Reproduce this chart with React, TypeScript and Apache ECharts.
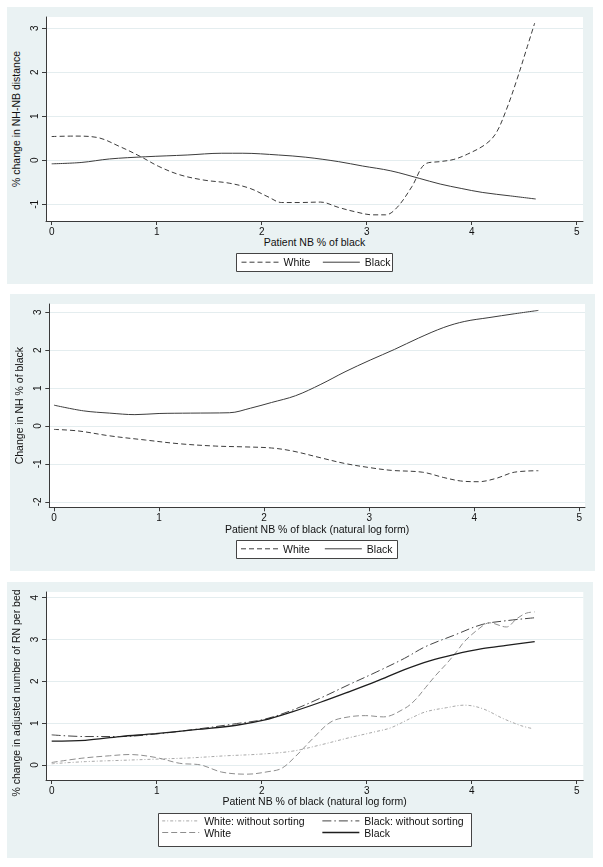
import React, { useEffect, useRef } from "react";
import * as echarts from "echarts";

// ---------- data ----------
const xTicks = [0, 1, 2, 3, 4, 5];
const yTicks1 = [-1, 0, 1, 2, 3];
const yTicks2 = [-2, -1, 0, 1, 2, 3];
const yTicks3 = [0, 1, 2, 3, 4];

// Panel 1: % change in NH-NB distance
const p1WhiteX = [0, 0.22, 0.43, 0.65, 0.85, 1.02, 1.22, 1.45, 1.69, 1.89, 2.06, 2.19, 2.36, 2.56, 2.73, 2.89, 3.06, 3.18, 3.29, 3.43, 3.56, 3.7, 3.83, 3.96, 4.13, 4.23, 4.33, 4.43, 4.52, 4.6];
const p1WhiteY = [0.54, 0.55, 0.52, 0.31, 0.08, -0.14, -0.33, -0.45, -0.52, -0.64, -0.83, -0.96, -0.96, -0.95, -1.07, -1.17, -1.24, -1.24, -1.07, -0.6, -0.08, -0.03, 0.02, 0.14, 0.36, 0.61, 1.15, 1.83, 2.51, 3.12];
const p1BlackX = [0, 0.28, 0.55, 0.89, 1.29, 1.62, 1.82, 2.16, 2.42, 2.73, 2.96, 3.23, 3.5, 3.7, 3.9, 4.1, 4.37, 4.61];
const p1BlackY = [-0.08, -0.05, 0.03, 0.08, 0.12, 0.16, 0.16, 0.12, 0.07, -0.03, -0.13, -0.24, -0.41, -0.54, -0.64, -0.73, -0.81, -0.88];

// Panel 2: Change in NH % of black
const p2BlackX = [0, 0.28, 0.53, 0.77, 1.0, 1.3, 1.67, 1.87, 2.07, 2.3, 2.54, 2.77, 3.01, 3.24, 3.47, 3.71, 3.91, 4.14, 4.38, 4.61];
const p2BlackY = [0.55, 0.4, 0.34, 0.3, 0.33, 0.34, 0.35, 0.47, 0.62, 0.8, 1.1, 1.43, 1.74, 2.02, 2.32, 2.6, 2.76, 2.86, 2.96, 3.05];
const p2WhiteX = [0, 0.23, 0.53, 0.87, 1.2, 1.54, 1.8, 2.07, 2.27, 2.54, 2.77, 3.01, 3.21, 3.51, 3.71, 3.87, 4.04, 4.21, 4.38, 4.61];
const p2WhiteY = [-0.09, -0.13, -0.26, -0.37, -0.47, -0.53, -0.55, -0.58, -0.66, -0.84, -0.99, -1.1, -1.17, -1.22, -1.36, -1.45, -1.47, -1.38, -1.22, -1.18];

// Panel 3: % change in adjusted number of RN per bed
const p3BlackX = [0, 0.32, 0.65, 0.99, 1.39, 1.76, 2.02, 2.29, 2.56, 2.83, 3.09, 3.36, 3.6, 3.83, 4.1, 4.33, 4.6];
const p3BlackY = [0.57, 0.59, 0.68, 0.75, 0.85, 0.95, 1.07, 1.27, 1.5, 1.75, 2.0, 2.28, 2.49, 2.64, 2.78, 2.86, 2.95];
const p3BlackNsX = [0, 0.32, 0.65, 0.99, 1.39, 1.76, 2.02, 2.29, 2.56, 2.83, 3.09, 3.36, 3.56, 3.83, 4.1, 4.33, 4.6];
const p3BlackNsY = [0.72, 0.68, 0.68, 0.74, 0.86, 0.99, 1.09, 1.31, 1.6, 1.92, 2.22, 2.55, 2.83, 3.1, 3.36, 3.45, 3.52];
const p3WhiteX = [0, 0.28, 0.55, 0.74, 0.99, 1.22, 1.42, 1.62, 1.86, 2.06, 2.19, 2.32, 2.49, 2.66, 2.83, 2.99, 3.16, 3.36, 3.46, 3.56, 3.66, 3.76, 3.86, 3.93, 4.07, 4.17, 4.33, 4.43, 4.52, 4.6];
const p3WhiteY = [0.06, 0.16, 0.22, 0.25, 0.18, 0.04, 0.0, -0.17, -0.22, -0.16, -0.08, 0.2, 0.64, 1.03, 1.15, 1.18, 1.15, 1.35, 1.55, 1.85, 2.15, 2.42, 2.72, 2.95, 3.26, 3.4, 3.3, 3.5, 3.63, 3.66];
const p3WhiteNsX = [0, 0.32, 0.65, 0.99, 1.32, 1.66, 1.99, 2.29, 2.56, 2.83, 3.09, 3.23, 3.43, 3.56, 3.76, 3.93, 4.1, 4.3, 4.47, 4.58];
const p3WhiteNsY = [0.03, 0.08, 0.11, 0.14, 0.17, 0.22, 0.26, 0.33, 0.48, 0.65, 0.8, 0.89, 1.13, 1.27, 1.37, 1.43, 1.35, 1.11, 0.94, 0.87];

const zip = (xs: number[], ys: number[]) => xs.map((x, i) => [x, ys[i]]);

const FONT = "'Liberation Sans', Arial, Helvetica, sans-serif";
const TEXT = "#111";
const AXIS = "#3a3a3a";
const GRIDLINE = "#E4EDEF";
const BG = "#EAF2F3";

const DARK = "#3c3c3c";
const dash = [5, 3];

function xAxisCfg(gridIndex: number, min: number, max: number, name: string) {
  return {
    type: "value",
    gridIndex,
    min,
    max,
    name,
    nameLocation: "middle",
    nameGap: 15,
    nameTextStyle: { fontSize: 10.5, color: TEXT, fontFamily: FONT },
    axisLine: { show: true, onZero: false, lineStyle: { color: AXIS, width: 1 } },
    axisTick: { show: true, length: 4, customValues: xTicks, lineStyle: { color: AXIS, width: 1 } },
    axisLabel: { customValues: xTicks, margin: 5, fontSize: 10, color: TEXT, fontFamily: FONT },
    splitLine: { show: false },
  };
}

function yAxisCfg(gridIndex: number, min: number, max: number, ticks: number[], name: string, nameGap: number, namePad: number[]) {
  return {
    type: "value",
    gridIndex,
    min,
    max,
    name,
    nameLocation: "middle",
    nameGap,
    nameTextStyle: { fontSize: 10.5, color: TEXT, fontFamily: FONT, padding: namePad },
    axisLine: { show: true, onZero: false, lineStyle: { color: AXIS, width: 1 } },
    axisTick: { show: true, length: 4, customValues: ticks, lineStyle: { color: AXIS, width: 1 } },
    axisLabel: { customValues: ticks, rotate: 90, margin: 7, fontSize: 10, color: TEXT, fontFamily: FONT },
    splitLine: { show: true, lineStyle: { color: GRIDLINE, width: 1 } },
  };
}

function lineSeries(name: string, xi: number, xs: number[], ys: number[], color: string, width: number, type: any) {
  return {
    type: "line",
    name,
    xAxisIndex: xi,
    yAxisIndex: xi,
    data: zip(xs, ys),
    symbol: "none",
    smooth: 0.35,
    lineStyle: { color, width, type },
    itemStyle: { color },
    silent: true,
  };
}

const legendItem = (name: string, color: string, width: number, type: any) => ({
  name,
  lineStyle: { color, width, type },
  itemStyle: { color: "transparent", borderWidth: 0, opacity: 0 },
});

const W_NS_COLOR = "#a8a8a8";
const W_NS_TYPE = [3, 2, 1, 2];
const B_NS_COLOR = "#444";
const B_NS_TYPE = [9, 3, 1.5, 3];
const W3_COLOR = "#8e8e8e";
const W3_TYPE = [6, 3];
const B3_COLOR = "#1e1e1e";

export default function App() {
  const ref = useRef<HTMLDivElement>(null);
  useEffect(() => {
    if (!ref.current) return;
    const chart = echarts.init(ref.current, undefined, { renderer: "svg" });
    const legendText = { fontSize: 10.5, color: TEXT, fontFamily: FONT };
    chart.setOption({
      animation: false,
      backgroundColor: "transparent",
      grid: [
        { left: 46, top: 17, width: 537, height: 204, show: true, backgroundColor: "#fff", borderWidth: 0 },
        { left: 49.3, top: 304, width: 535.7, height: 203.3, show: true, backgroundColor: "#fff", borderWidth: 0 },
        { left: 46, top: 592, width: 537.3, height: 188, show: true, backgroundColor: "#fff", borderWidth: 0 },
      ],
      xAxis: [
        xAxisCfg(0, -0.0543, 5.06, "Patient NB % of black"),
        xAxisCfg(1, -0.0447, 5.054, "Patient NB % of black (natural log form)"),
        xAxisCfg(2, -0.0543, 5.063, "Patient NB % of black (natural log form)"),
      ],
      yAxis: [
        yAxisCfg(0, -1.38, 3.257, yTicks1, "% change in NH-NB distance", 13, [0, 0, 0, 0]),
        yAxisCfg(1, -2.145, 3.219, yTicks2, "Change in NH % of black", 14, [0, 0, 0, 0]),
        yAxisCfg(2, -0.359, 4.136, yTicks3, "% change in adjusted number of RN per bed", 16, [0, 14, 0, 0]),
      ],
      legend: [
        {
          left: 241, top: 256.7, itemWidth: 37, itemHeight: 12, itemGap: 12, padding: 0, selectedMode: false,
          textStyle: legendText,
          data: [legendItem("White", DARK, 1, dash), legendItem("Black", DARK, 1, "solid")],
        },
        {
          left: 240.5, top: 543.3, itemWidth: 37, itemHeight: 12, itemGap: 14.5, padding: 0, selectedMode: false,
          textStyle: legendText,
          data: [legendItem("White", DARK, 1, dash), legendItem("Black", DARK, 1, "solid")],
        },
        {
          left: 161.7, top: 815.3, orient: "vertical", itemWidth: 37, itemHeight: 14, itemGap: 0.4, padding: 0, selectedMode: false,
          textStyle: legendText,
          data: [legendItem("White: without sorting", W_NS_COLOR, 1, W_NS_TYPE), legendItem("White", W3_COLOR, 1, W3_TYPE)],
        },
        {
          left: 321.7, top: 815.3, orient: "vertical", itemWidth: 37, itemHeight: 14, itemGap: 0.4, padding: 0, selectedMode: false,
          textStyle: legendText,
          data: [legendItem("Black: without sorting", B_NS_COLOR, 1, B_NS_TYPE), legendItem("Black", B3_COLOR, 1.3, "solid")],
        },
      ],
      graphic: [
        { type: "rect", z: 1, shape: { x: 236.5, y: 253.5, width: 156, height: 18 }, style: { fill: "#fff", stroke: "#444", lineWidth: 1 } },
        { type: "rect", z: 1, shape: { x: 236.5, y: 540.5, width: 161, height: 18 }, style: { fill: "#fff", stroke: "#444", lineWidth: 1 } },
        { type: "rect", z: 1, shape: { x: 158.5, y: 813.5, width: 313, height: 33 }, style: { fill: "#fff", stroke: "#444", lineWidth: 1 } },
      ],
      series: [
        lineSeries("White", 0, p1WhiteX, p1WhiteY, DARK, 1, dash),
        lineSeries("Black", 0, p1BlackX, p1BlackY, DARK, 1, "solid"),
        lineSeries("White", 1, p2WhiteX, p2WhiteY, DARK, 1, dash),
        lineSeries("Black", 1, p2BlackX, p2BlackY, DARK, 1, "solid"),
        lineSeries("White: without sorting", 2, p3WhiteNsX, p3WhiteNsY, W_NS_COLOR, 1, W_NS_TYPE),
        lineSeries("Black: without sorting", 2, p3BlackNsX, p3BlackNsY, B_NS_COLOR, 1, B_NS_TYPE),
        lineSeries("White", 2, p3WhiteX, p3WhiteY, W3_COLOR, 1, W3_TYPE),
        lineSeries("Black", 2, p3BlackX, p3BlackY, B3_COLOR, 1.3, "solid"),
      ],
    });
    return () => chart.dispose();
  }, []);

  const panel = (left: number, top: number, width: number, height: number) => ({
    position: "fixed" as const, left, top, width, height, background: BG,
  });

  return (
    <>
      <div style={panel(7, 7, 586, 277)} />
      <div style={panel(10, 294, 585, 277)} />
      <div style={panel(7, 582, 586, 276)} />
      <div ref={ref} style={{ position: "fixed", left: 0, top: 0, width: 603, height: 867 }} />
    </>
  );
}
